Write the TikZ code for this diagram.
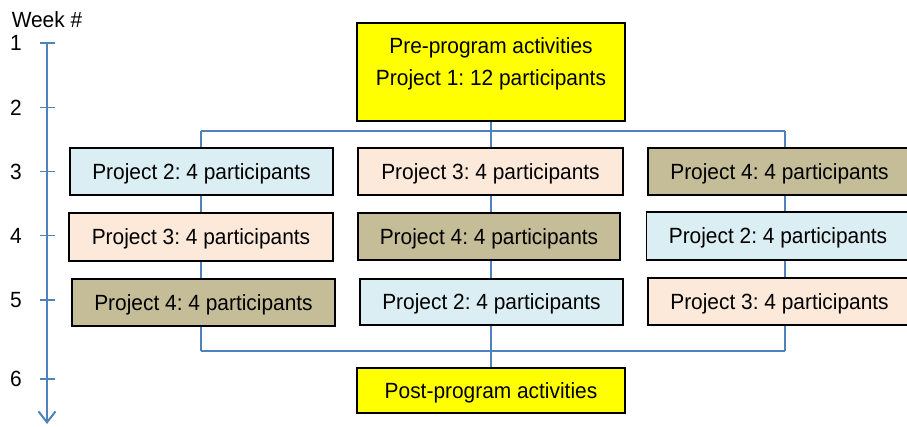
\documentclass[tikz,border=0pt]{standalone}
\usepackage{fontspec}
\setmainfont{Liberation Sans}[FakeStretch=0.95]
\frenchspacing
\usetikzlibrary{arrows.meta}
\definecolor{linkblue}{HTML}{4F81BD}
\definecolor{pjblue}{HTML}{DAEEF3}
\definecolor{pjpeach}{HTML}{FDE9D9}
\definecolor{pjtan}{HTML}{C4BD97}
\definecolor{pjyellow}{HTML}{FFFF00}
\tikzset{
  txt/.style={font=\fontsize{22}{32}\selectfont, text=black},
  box/.style={txt, draw=black, line width=1.5pt, inner sep=0pt,
              minimum width=263pt, minimum height=47pt,
              text height=15.7pt, text depth=0pt},
  p2/.style={box, fill=pjblue},
  p3/.style={box, fill=pjpeach},
  p4/.style={box, fill=pjtan},
  stage/.style={box, fill=pjyellow, minimum width=268pt},
  conn/.style={draw=linkblue, line width=1.6pt},
  axis/.style={draw=linkblue, line width=2pt},
  tick/.style={draw=linkblue, line width=1.8pt},
  wk/.style={txt},
}
\begin{document}
\begin{tikzpicture}[x=1pt, y=-1pt]
\useasboundingbox (0,0) rectangle (907,427);
\begin{scope}
\clip (0,0) rectangle (907,427);

% connector frame joining the three project tracks
\coordinate (tl) at (201,131);
\coordinate (tr) at (785,131);
\coordinate (bl) at (201,351);
\coordinate (br) at (785,351);

% boxes
\node[stage, minimum height=98pt] (pre) at (491,72) {};
\node[txt, align=center] (pretext) at (491,64) {Pre-program activities\\Project 1: 12 participants};
\node[stage, minimum height=45pt] (post) at (491,390.5) {Post-program activities};

\draw[conn] (tl) -- (tr);
\draw[conn] (bl) -- (br);
\draw[conn] (tl) -- (bl);
\draw[conn] (tr) -- (br);
\draw[conn] (pre.south) -- (post.north);

% left track
\node[p2] (la) at (201.5,171.5) {Project 2: 4 participants};
\node[p3, minimum width=264pt, minimum height=48pt] (lb) at (201,237) {Project 3: 4 participants};
\node[p4] (lc) at (203.5,302.5) {Project 4: 4 participants};

% middle track
\node[p3, minimum width=265pt] (ma) at (490.5,171.5) {Project 3: 4 participants};
\node[p4, minimum width=262pt] (mb) at (489,236.5) {Project 4: 4 participants};
\node[p2, minimum height=46pt] (mc) at (491.5,302) {Project 2: 4 participants};

% right track
\node[p4] (ra) at (779.5,171.5) {Project 4: 4 participants};
\node[p2, minimum height=48pt] (rb) at (778,236) {Project 2: 4 participants};
\node[p3] (rc) at (779.5,301.5) {Project 3: 4 participants};

% week axis
\node[wk] (wtitle) at (47,20) {Week \#};
\coordinate (axtop) at (47,43);
\coordinate (axbot) at (47,424);
\draw[axis, -{Straight Barb[length=11pt, width=17pt]}] (axtop) -- (axbot);
\foreach \n/\y in {1/43, 2/107.5, 3/171.5, 4/235.5, 5/300, 6/379} {
  \coordinate (t\n) at (47,\y);
  \draw[tick] ([xshift=-7.5pt]t\n) -- ([xshift=7.5pt]t\n);
  \node[wk, text height=15.7pt, text depth=0pt] (w\n) at (16,\y) {\n};
}
\end{scope}
\end{tikzpicture}
\end{document}
